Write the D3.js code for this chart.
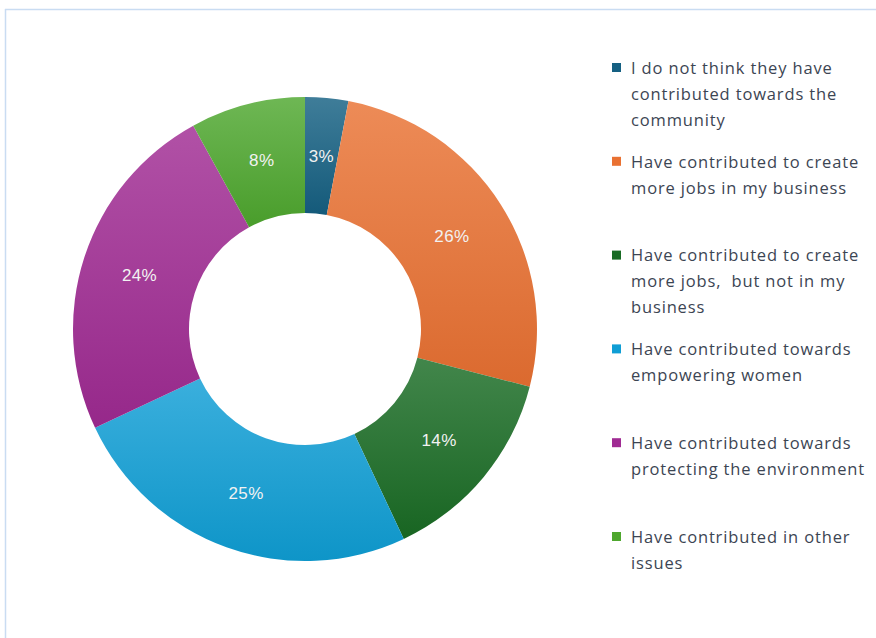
<!DOCTYPE html>
<html>
<head>
<meta charset="utf-8">
<script src="https://cdn.jsdelivr.net/npm/d3@7"></script>
<style>
  html, body { margin: 0; padding: 0; background: #fff; }
  svg { display: block; }
</style>
</head>
<body>
<svg id="chart" width="876" height="638"></svg>
<script>
// Survey responses: how the businesses have contributed to the community
const categories = [
  ["I do not think they have", "contributed towards the", "community"],
  ["Have contributed to create", "more jobs in my business"],
  ["Have contributed to create", "more jobs,  but not in my", "business"],
  ["Have contributed towards", "empowering women"],
  ["Have contributed towards", "protecting the environment"],
  ["Have contributed in other", "issues"]
];
const values = [3, 26, 14, 25, 24, 8];
const valueLabels = ["3%", "26%", "14%", "25%", "24%", "8%"];
const colors = ["#156082", "#E97132", "#196B24", "#0F9ED5", "#A02B93", "#4EA72E"];

const svg = d3.select("#chart");
const W = 876, H = 638;

// light frame along the top and left edges
svg.append("line").attr("x1", 5).attr("x2", W).attr("y1", 9.5).attr("y2", 9.5)
  .attr("stroke", "#c9dcf2").attr("stroke-width", 1.5);
svg.append("line").attr("x1", 5.5).attr("x2", 5.5).attr("y1", 9).attr("y2", H)
  .attr("stroke", "#c9dcf2").attr("stroke-width", 1.5);

// vertical gradient for each slice: lighter at the top, full colour below
const defs = svg.append("defs");
colors.forEach((c, i) => {
  const g = defs.append("linearGradient").attr("id", "grad" + i)
    .attr("x1", 0).attr("y1", 0).attr("x2", 0).attr("y2", 1);
  g.append("stop").attr("offset", "0%").attr("stop-color", d3.interpolateRgb(c, "#ffffff")(0.18));
  g.append("stop").attr("offset", "100%").attr("stop-color", d3.interpolateRgb(c, "#000000")(0.06));
});

const cx = 305, cy = 329, outerR = 232, innerR = 116;
const pie = d3.pie().sort(null).value(d => d)(values);
const arc = d3.arc().innerRadius(innerR).outerRadius(outerR);

const g = svg.append("g").attr("transform", `translate(${cx},${cy})`);
g.selectAll("path.slice").data(pie).join("path")
  .attr("class", "slice")
  .attr("d", arc)
  .attr("fill", (d, i) => `url(#grad${i})`);

g.selectAll("text.val").data(pie).join("text")
  .attr("class", "val")
  .attr("transform", d => `translate(${arc.centroid(d)})`)
  .attr("text-anchor", "middle")
  .attr("dy", "0.35em")
  .attr("font-family", "Liberation Sans, Arial, sans-serif")
  .attr("font-size", 17)
  .attr("letter-spacing", 0.4)
  .attr("fill", "#f2f2f2")
  .text((d, i) => valueLabels[i]);

// legend
const legendX = 612, legendY0 = 68, legendStep = 93.8, lineH = 26;
const lg = svg.append("g");
categories.forEach((lines, i) => {
  const y = legendY0 + i * legendStep;
  lg.append("rect").attr("x", legendX).attr("y", y - 5).attr("width", 9).attr("height", 9)
    .attr("fill", colors[i]);
  const t = lg.append("text")
    .attr("x", legendX + 19).attr("y", y)
    .attr("font-family", "Open Sans, sans-serif")
    .attr("font-size", 16.5)
    .attr("letter-spacing", 0.85)
    .attr("fill", "#3c4553");
  lines.forEach((ln, j) => {
    t.append("tspan").attr("x", legendX + 19).attr("y", y + j * lineH).attr("dy", "0.35em")
      .style("white-space", "pre").text(ln);
  });
});
</script>
</body>
</html>
